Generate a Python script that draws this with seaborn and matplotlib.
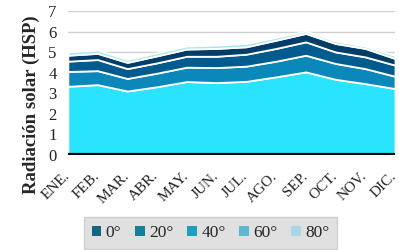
import matplotlib
matplotlib.use('Agg')
import matplotlib.pyplot as plt
import matplotlib.transforms as mtransforms
import seaborn as sns
from matplotlib.patches import Patch

months = ['ENE.', 'FEB.', 'MAR.', 'ABR.', 'MAY.', 'JUN.', 'JUL.', 'AGO.', 'SEP.', 'OCT.', 'NOV.', 'DIC.']
labels = ['0°', '20°', '40°', '60°', '80°']

# stacked layer thicknesses (HSP), bottom to top
s0 = [3.34, 3.42, 3.11, 3.32, 3.57, 3.52, 3.58, 3.80, 4.04, 3.68, 3.47, 3.23]
s20 = [0.72, 0.68, 0.61, 0.66, 0.70, 0.73, 0.74, 0.76, 0.81, 0.77, 0.73, 0.60]
s40 = [0.50, 0.54, 0.48, 0.50, 0.53, 0.55, 0.58, 0.62, 0.65, 0.56, 0.57, 0.54]
s60 = [0.29, 0.30, 0.30, 0.34, 0.35, 0.38, 0.36, 0.40, 0.41, 0.41, 0.41, 0.32]
s80 = [0.16, 0.16, 0.14, 0.15, 0.15, 0.16, 0.16, 0.14, 0.11, 0.12, 0.11, 0.15]

fill_colors = ['#29E3FF', '#0A88BA', '#005C8F', '#003D68', '#A8E4EE']
legend_colors = ['#11687E', '#157F98', '#1BA0BF', '#5DB7CF', '#A9D8E5']

sns.set_theme(style='white')
plt.rcParams['font.family'] = ['Liberation Serif', 'DejaVu Serif']

fig = plt.figure(figsize=(3.99, 2.5), dpi=100)
ax = fig.add_axes([0.17, 0.38, 0.82, 0.576])

x = list(range(len(months)))
ax.stackplot(x, s0, s20, s40, s60, s80, colors=fill_colors,
             edgecolor='white', linewidth=1.3, zorder=2)

ax.set_xlim(0, len(months) - 1)
ax.set_ylim(0, 7)
ax.set_yticks(range(8))
ax.yaxis.grid(True, color='#D0D0D0', linewidth=1.0, zorder=0)
ax.axhline(0, color='black', linewidth=3, zorder=3)
for sp in ax.spines.values():
    sp.set_visible(False)

ax.set_xticks(x)
ax.set_xticklabels(months, rotation=45, ha='right', rotation_mode='anchor',
                   fontsize=11, color='#222222')
ax.tick_params(axis='x', pad=4, length=0)
shift = mtransforms.ScaledTranslation(-5 / 100, -9 / 100, fig.dpi_scale_trans)
for lbl in ax.get_xticklabels():
    lbl.set_transform(lbl.get_transform() + shift)
ax.tick_params(axis='y', labelsize=12, pad=8, length=0, colors='#222222')

# y label sits lower than the axes centre in the original
fig.text(31 / 399, 1 - 105 / 250, 'Radiación solar (HSP)', rotation=90,
         ha='center', va='center', fontsize=13.5, fontweight='bold')

handles = [Patch(facecolor=c, edgecolor='none') for c in legend_colors]
leg = fig.legend(handles, labels, loc='lower center', bbox_to_anchor=(0.528, -0.03),
                 ncol=5, frameon=True, fontsize=12.5, handlelength=0.55, handleheight=0.55,
                 handletextpad=0.25, columnspacing=0.8, borderpad=0.45, fancybox=False)
leg.get_frame().set_facecolor('#D9D9D9')
leg.get_frame().set_edgecolor('#C8C8C8')

fig.savefig('out.png', dpi=100)
